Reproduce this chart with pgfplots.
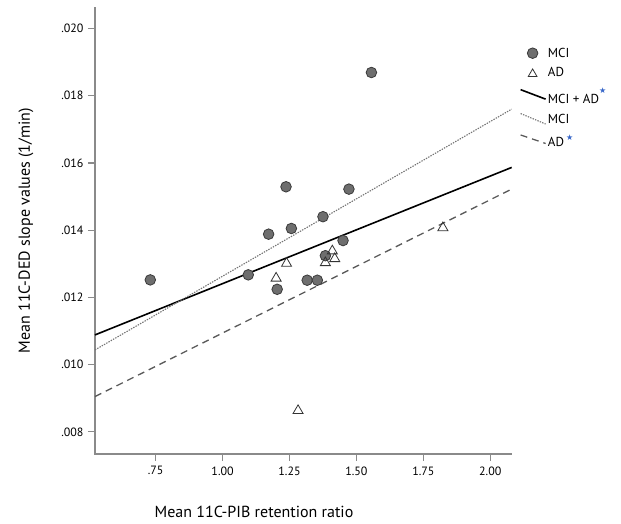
\documentclass[border=0pt]{standalone}
\usepackage{pgfplots}
\pgfplotsset{compat=1.18}
\usepackage{fontspec}
\setmainfont{PT Sans}
\newfontfamily\dejavu{DejaVu Sans}
\definecolor{mcifill}{HTML}{6E6E6E}
\definecolor{mciedge}{HTML}{3A3A3A}
\definecolor{starblue}{HTML}{3565C8}
\newcommand{\bluestar}{{\dejavu\fontsize{8}{8}\selectfont\color{starblue}★}}
\pgfplotsset{
  legcirc/.style={legend image code/.code={\draw[##1] plot coordinates {(12pt,0pt)};}},
  legtri/.style={legend image code/.code={\draw[##1, mark size=5pt] plot coordinates {(12pt,-1pt)};}},
  legA/.style={legend image code/.code={\draw[##1] (0pt,6.5pt) -- (25pt,-3pt);}},
  legB/.style={legend image code/.code={\draw[##1] (0pt,6.5pt) -- (25pt,-4pt);}},
  legC/.style={legend image code/.code={\draw[##1] (0pt,6pt) -- (25pt,-2.5pt);}},
}
\pgfplotstableread{
x y
0.730 0.01252
1.096 0.01267
1.172 0.01388
1.204 0.01224
1.237 0.01529
1.257 0.01405
1.316 0.01251
1.354 0.01251
1.375 0.01440
1.384 0.01324
1.450 0.01369
1.472 0.01522
1.556 0.01869
}\mcidata
\pgfplotstableread{
x y
1.200 0.01257
1.239 0.01301
1.282 0.00863
1.384 0.01303
1.410 0.01338
1.419 0.01315
1.823 0.01407
}\addata
\begin{document}
\begin{tikzpicture}
\begin{axis}[
  at={(95pt,70pt)}, anchor=south west,
  scale only axis, width=416.7pt, height=446.7pt,
  xmin=0.5235, xmax=2.08, ymin=0.00734, ymax=0.02063,
  scaled y ticks=false, scaled x ticks=false,
  axis lines*=left,
  axis line style={draw=black!46, line width=1.4pt, -},
  xtick={0.75,1.00,1.25,1.50,1.75,2.00},
  xticklabels={.75,1.00,1.25,1.50,1.75,2.00},
  ytick={0.008,0.010,0.012,0.014,0.016,0.018,0.020},
  yticklabels={.008,.010,.012,.014,.016,.018,.020},
  tick align=outside, major tick length=7pt,
  major tick style={draw=black!46, line width=1.2pt},
  ticklabel style={font=\fontsize{12}{14}\selectfont},
  xticklabel style={yshift=-2pt},
  yticklabel style={xshift=-1pt},
  xlabel={Mean 11C-PIB retention ratio},
  ylabel={Mean 11C-DED slope values (1/min)},
  label style={font=\fontsize{16}{18}\selectfont},
  xlabel style={at={(axis description cs:0.3816,0)}, anchor=center, yshift=-58pt},
  ylabel style={at={(axis description cs:-0.1656,0.5)}, anchor=center},
  clip=false,
  legend cell align=left,
  legend style={draw=none, fill=none, at={(rel axis cs:1.019,0.912)}, anchor=north west,
    font=\fontsize{13}{15}\selectfont, row sep=7pt, inner sep=0pt,
    nodes={inner xsep=1.5pt, inner ysep=1pt}},
]
\fill[black!46] (rel axis cs:0,0) ++(-0.7pt,-0.7pt) rectangle ++(1.4pt,447.4pt);
\fill[black!46] (rel axis cs:0,0) ++(-0.7pt,-0.7pt) rectangle ++(417.4pt,1.4pt);
\pgfplotsinvokeforeach{0.75,1.00,1.25,1.50,1.75,2.00}{
  \fill[black!46] (axis cs:#1,0.00734) ++(-0.6pt,0pt) rectangle ++(1.2pt,-7pt);
}
\pgfplotsinvokeforeach{0.008,0.010,0.012,0.014,0.016,0.018,0.020}{
  \fill[black!46] (axis cs:0.5235,#1) ++(0pt,-0.6pt) rectangle ++(-7pt,1.2pt);
}
\addplot[only marks, mark=*, mark size=5.3pt, mark options={fill=mcifill, draw=mciedge, line width=0.8pt}, legcirc]
  table[x=x,y=y] {\mcidata};
\addlegendentry{MCI}
\addplot[only marks, mark=triangle, mark size=5.8pt, mark options={fill=white, draw=black!80, line width=0.8pt}, legtri]
  table[x=x,y=y] {\addata};
\addlegendentry{AD}
\addplot[black, line width=1.6pt, legA]
  coordinates {(0.5235,0.010883) (2.08,0.015866)};
\addlegendentry{MCI + AD\raisebox{1.6ex}{\bluestar}}
\addplot[black!55, line width=1.1pt, dash pattern=on 1.4pt off 1.2pt, legB]
  coordinates {(0.5235,0.010437) (2.08,0.01760)};
\addlegendentry{MCI}
\addplot[black!65, line width=1.3pt, dash pattern=on 7pt off 5pt, legC]
  coordinates {(0.5235,0.009049) (2.08,0.015222)};
\addlegendentry{AD\,\raisebox{0.9ex}{\bluestar}}
\end{axis}
\path[use as bounding box] (0,0) rectangle (621pt,524pt);
\end{tikzpicture}
\end{document}
